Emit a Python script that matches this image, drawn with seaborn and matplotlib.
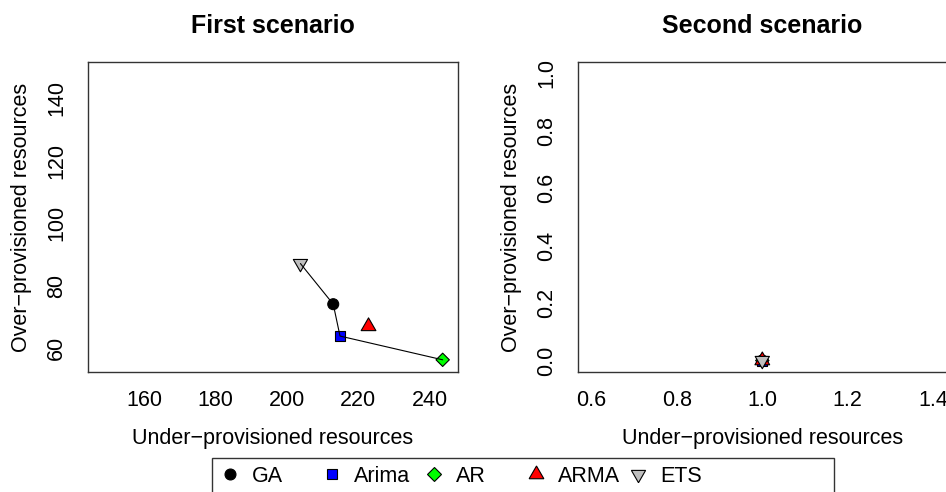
import matplotlib
matplotlib.use("Agg")
import matplotlib.pyplot as plt
from matplotlib.lines import Line2D
from matplotlib.patches import Rectangle
import numpy as np
import pandas as pd
import seaborn as sns

# data
models = ["GA", "Arima", "AR", "ARMA", "ETS"]
s1_under = [213.0, 214.9, 243.7, 222.9, 203.8]
s1_over = [74.1, 63.9, 56.3, 67.0, 87.1]
s2_under = [1.0, 1.0, 1.0, 1.0, 1.0]
s2_over = [0.0, 0.0, 0.0, 0.0, 0.0]
front = ["ETS", "GA", "Arima", "AR"]   # pareto front, joined by a line
s1_xticks = [160, 180, 200, 220, 240]
s1_yticks = [60, 80, 100, 120, 140]
s2_xticks = [0.6, 0.8, 1.0, 1.2, 1.4]
s2_yticks = [0.0, 0.2, 0.4, 0.6, 0.8, 1.0]

# styles (triangles as regular polygons so they sit centred like R's pch 24/25)
pal = {"GA": "black", "Arima": "#0000FF", "AR": "#00FF00", "ARMA": "#FF0000", "ETS": "#BEBEBE"}
mk = {"GA": "o", "Arima": "s", "AR": "D", "ARMA": (3, 0, 0), "ETS": (3, 0, 180)}
sz = {"GA": 62, "Arima": 52, "AR": 46, "ARMA": 150, "ETS": 140}
EDGE = "#333333"
FS = 15.5

sns.set_style("white", {"axes.edgecolor": EDGE, "xtick.color": EDGE, "ytick.color": EDGE,
                        "text.color": "black", "axes.labelcolor": "black"})
plt.rcParams["font.family"] = ["Liberation Sans", "DejaVu Sans"]
plt.rcParams["xtick.labelcolor"] = "black"
plt.rcParams["ytick.labelcolor"] = "black"

W, H = 946, 492
fig = plt.figure(figsize=(W / 100, H / 100), dpi=100)
ax1 = fig.add_axes([88 / W, 1 - 372 / H, 370 / W, 310 / H])
ax2 = fig.add_axes([578 / W, 1 - 372 / H, 368.6 / W, 310 / H])

panels = [
    (ax1, s1_under, s1_over, "First scenario", (144.2, 248.0), (52.4, 151.6), s1_xticks, s1_yticks, True),
    (ax2, s2_under, s2_over, "Second scenario", (0.568, 1.432), (-0.04, 1.04), s2_xticks, s2_yticks, False),
]

for ax, under, over, title, xl, yl, xt, yt, draw_line in panels:
    df = pd.DataFrame({"model": models, "under": under, "over": over})
    sns.scatterplot(data=df, x="under", y="over", hue="model", style="model", size="model",
                    palette=pal, markers=mk, sizes=sz, edgecolor="black", linewidth=0.8,
                    legend=False, ax=ax, zorder=3)
    if draw_line:
        fr = df.set_index("model").loc[front].reset_index()
        sns.lineplot(data=fr, x="under", y="over", sort=False, estimator=None,
                     color="black", linewidth=0.8, ax=ax, zorder=4)
    ax.set_xlim(*xl)
    ax.set_ylim(*yl)
    ax.set_xticks(xt)
    ax.set_yticks(yt)
    ax.set_title(title, fontsize=18, fontweight="bold", pad=21)
    ax.set_xlabel("Under\u2212provisioned resources", fontsize=FS, labelpad=12)
    ax.set_ylabel("Over\u2212provisioned resources", fontsize=FS, labelpad=10)
    ax.tick_params(axis="both", direction="out", length=7, width=1, labelsize=FS)
    ax.tick_params(axis="x", pad=6)
    ax.tick_params(axis="y", pad=8, labelrotation=90)
    for lab in ax.get_yticklabels():
        lab.set_va("center")
    for sp in ax.spines.values():
        sp.set_visible(True)
        sp.set_color(EDGE)
        sp.set_linewidth(1)

# legend below the panels, equal column widths like R's horiz legend
leg_y = 1 - 476 / H
for i, m in enumerate(models):
    h = Line2D([], [], linestyle="none", marker=mk[m], markersize=np.sqrt(sz[m]),
               markerfacecolor=pal[m], markeredgecolor="black", markeredgewidth=0.8)
    fig.legend(handles=[h], labels=[m], loc="center left",
               bbox_to_anchor=((219.6 + i * 102) / W, leg_y), frameon=False,
               borderpad=0, borderaxespad=0, handlelength=1.0, handletextpad=0.5,
               fontsize=FS)
fig.add_artist(Rectangle((211.7 / W, -0.1), (834 - 211.7) / W, 0.1 + 1 - 458 / H,
                         transform=fig.transFigure, fill=False, edgecolor=EDGE, linewidth=1))

fig.savefig("out.png", dpi=100)
